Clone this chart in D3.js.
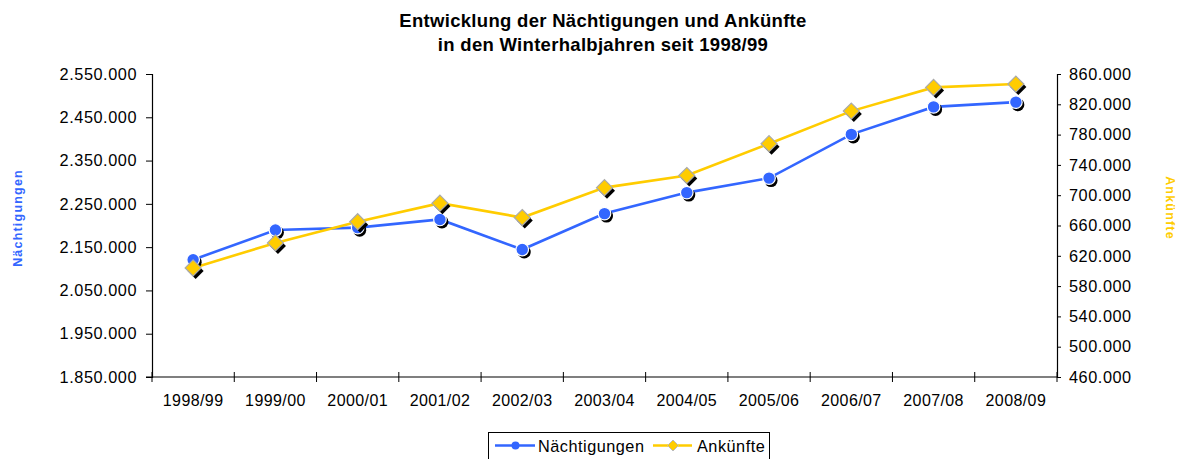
<!DOCTYPE html>
<html>
<head>
<meta charset="utf-8">
<script src="https://cdn.jsdelivr.net/npm/d3@7"></script>
<style>
body { margin:0; background:#fff; }
text { font-family: "Liberation Sans", Arial, sans-serif; }
</style>
</head>
<body>
<svg></svg>
<script>
// Winterhalbjahre
var seasons = ["1998/99","1999/00","2000/01","2001/02","2002/03","2003/04","2004/05","2005/06","2006/07","2007/08","2008/09"]
var naechtigungen = [2121000,2189500,2195000,2214000,2144500,2227500,2276000,2309500,2410500,2474000,2485000]
var ankuenfte = [604000,637000,665000,689500,670500,710000,726000,768000,811000,842300,846700]
var leftTicks = [1850000,1950000,2050000,2150000,2250000,2350000,2450000,2550000]
var rightTicks = [460000,500000,540000,580000,620000,660000,700000,740000,780000,820000,860000]

var screen = {width:1181, height:459}
var plot = {left:152, right:1057, top:74, bottom:377}

var blue = "#3366ff"
var gold = "#ffcc00"

var de = d3.formatLocale({decimal:",", thousands:".", grouping:[3], currency:["","€"]})
var fmtInt = function(d){ return de.format(",")(d/1000) + ".000" }

var svg = d3.select("svg")
    .attr("width",screen.width)
    .attr("height",screen.height)

var xScale = d3.scaleBand()
    .domain(seasons)
    .range([plot.left, plot.right])
var yLeft = d3.scaleLinear()
    .domain([1850000,2550000])
    .range([plot.bottom, plot.top])
var yRight = d3.scaleLinear()
    .domain([460000,860000])
    .range([plot.bottom, plot.top])

// title
var title = svg.append("text")
    .attr("x",603)
    .attr("y",27)
    .attr("text-anchor","middle")
    .style("font-size","18.5px")
    .style("letter-spacing","0.3px")
    .style("font-weight","bold")
title.append("tspan").attr("x",603).text("Entwicklung der Nächtigungen und Ankünfte")
title.append("tspan").attr("x",603).attr("dy",23.5).text("in den Winterhalbjahren seit 1998/99")

// left axis
svg.append("g")
    .attr("transform","translate("+plot.left+",0)")
    .call(d3.axisLeft(yLeft).tickValues(leftTicks).tickSize(6).tickPadding(9).tickFormat(fmtInt))
// right axis
svg.append("g")
    .attr("transform","translate("+plot.right+",0)")
    .call(d3.axisRight(yRight).tickValues(rightTicks).tickSize(4).tickPadding(8).tickFormat(fmtInt))

// x axis with crossing ticks
var xAxis = svg.append("g")
    .attr("class","xaxis")
    .attr("transform","translate(0,"+plot.bottom+")")
    .call(d3.axisBottom(xScale).tickSize(0).tickPadding(18))

xAxis.select(".domain").attr("d","M"+(plot.left-6)+",0H"+plot.right)
xAxis.selectAll(".xtick")
    .data(d3.range(seasons.length+1))
    .enter()
    .append("line")
    .attr("class","xtick")
    .attr("x1",function(i){ return plot.left + i*xScale.step() })
    .attr("x2",function(i){ return plot.left + i*xScale.step() })
    .attr("y1",-5)
    .attr("y2",5)
    .attr("stroke","#000")

svg.selectAll(".domain").attr("stroke","#000").attr("stroke-width",1.2)
svg.selectAll(".tick line").attr("stroke","#000")
svg.selectAll(".tick text")
    .style("font-size","16.3px")
    .style("letter-spacing","0.55px")
    .attr("fill","#000")
    .style("font-family","Liberation Sans, Arial, sans-serif")
svg.selectAll(".xaxis .tick text")
    .style("font-size","16px")
    .style("letter-spacing","0.4px")

// axis titles
svg.append("text")
    .attr("transform","translate(22,218) rotate(-90)")
    .attr("text-anchor","middle")
    .attr("fill",blue)
    .style("font-size","12.5px")
    .style("letter-spacing","1.2px")
    .style("font-weight","bold")
    .text("Nächtigungen")
svg.append("text")
    .attr("transform","translate(1166,208) rotate(90)")
    .attr("text-anchor","middle")
    .attr("fill",gold)
    .style("font-size","12.5px")
    .style("letter-spacing","1.2px")
    .style("font-weight","bold")
    .text("Ankünfte")

var cx = function(d,i){ return xScale(seasons[i]) + xScale.bandwidth()/2 }

var diamond = function(x,y,r){
    return "M"+x+","+(y-r)+"L"+(x+r)+","+y+"L"+x+","+(y+r)+"L"+(x-r)+","+y+"Z"
}

// lines
var lineN = d3.line().x(cx).y(function(d){ return yLeft(d) })
var lineA = d3.line().x(cx).y(function(d){ return yRight(d) })

svg.append("path")
    .datum(naechtigungen)
    .attr("d",lineN)
    .attr("fill","none")
    .attr("stroke",blue)
    .attr("stroke-width",2.6)

svg.append("path")
    .datum(ankuenfte)
    .attr("d",lineA)
    .attr("fill","none")
    .attr("stroke",gold)
    .attr("stroke-width",2.6)

// blue markers with shadow
var nGroup = svg.append("g")
nGroup.selectAll(".nshadow")
    .data(naechtigungen)
    .enter()
    .append("circle")
    .attr("cx",function(d,i){ return cx(d,i)+2 })
    .attr("cy",function(d){ return yLeft(d)+2.5 })
    .attr("r",6.5)
    .attr("fill","#000")
nGroup.selectAll(".ndot")
    .data(naechtigungen)
    .enter()
    .append("circle")
    .attr("cx",cx)
    .attr("cy",function(d){ return yLeft(d) })
    .attr("r",6.3)
    .attr("fill",blue)
    .attr("stroke","#fff")
    .attr("stroke-width",1.2)

// gold diamonds with shadow
var aGroup = svg.append("g")
aGroup.selectAll(".ashadow")
    .data(ankuenfte)
    .enter()
    .append("path")
    .attr("d",function(d,i){ return diamond(cx(d,i)+2.5, yRight(d)+3, 8) })
    .attr("fill","#000")
aGroup.selectAll(".adot")
    .data(ankuenfte)
    .enter()
    .append("path")
    .attr("d",function(d,i){ return diamond(cx(d,i), yRight(d), 8) })
    .attr("fill",gold)
    .attr("stroke","#aaa")
    .attr("stroke-width",1.2)

// legend
var legend = svg.append("g")
legend.append("rect")
    .attr("x",488.5).attr("y",432.5)
    .attr("width",281).attr("height",40)
    .attr("fill","#fff").attr("stroke","#000")
legend.append("line")
    .attr("x1",495).attr("x2",535).attr("y1",445.5).attr("y2",445.5)
    .attr("stroke",blue).attr("stroke-width",2.6)
legend.append("circle")
    .attr("cx",515.5).attr("cy",445.5).attr("r",4)
    .attr("fill",blue)
legend.append("text")
    .attr("x",538).attr("y",452)
    .style("font-size","16.3px")
    .style("letter-spacing","0.5px")
    .text("Nächtigungen")
legend.append("line")
    .attr("x1",653).attr("x2",692).attr("y1",445.5).attr("y2",445.5)
    .attr("stroke",gold).attr("stroke-width",2.6)
legend.append("path")
    .attr("d",diamond(673,445.5,5.5))
    .attr("fill",gold).attr("stroke","#bbb")
legend.append("text")
    .attr("x",697).attr("y",452)
    .style("font-size","16.3px")
    .style("letter-spacing","0.5px")
    .text("Ankünfte")
</script>
</body>
</html>
